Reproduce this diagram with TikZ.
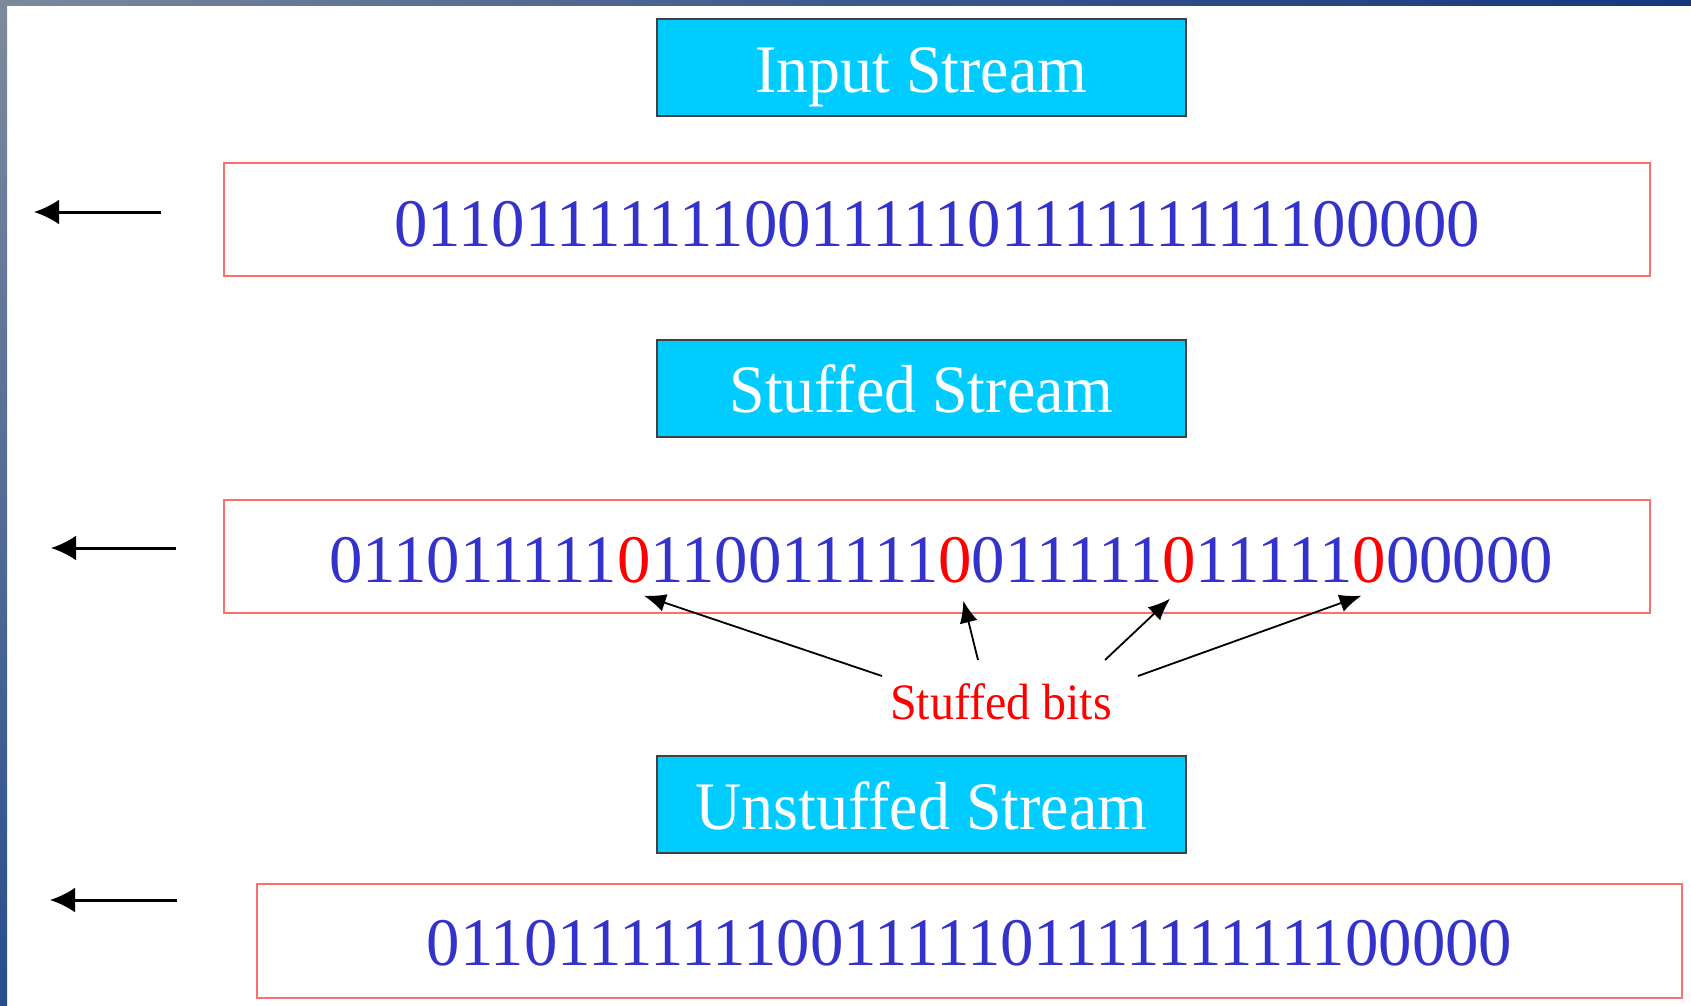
\documentclass[tikz,border=0pt]{standalone}
\usepackage{fontspec}
\setmainfont{Liberation Serif}[FakeStretch=0.94]
\newfontfamily\bitfont{Liberation Serif}[FakeStretch=0.982]
\usetikzlibrary{arrows.meta,calc}
\definecolor{titlecyan}{RGB}{0,204,255}
\definecolor{boxred}{RGB}{255,110,110}
\definecolor{bitblue}{RGB}{51,51,204}
\definecolor{frameA}{RGB}{124,138,156}
\definecolor{frameM}{RGB}{60,88,140}
\definecolor{frameB}{RGB}{20,56,128}
\definecolor{frameC}{RGB}{40,78,142}
\tikzset{
  titlebox/.style={draw=black!75, line width=1pt, fill=titlecyan, text=white,
    minimum width=264.5pt, minimum height=48.5pt, inner sep=0pt,
    text height=25.5pt, text depth=0.7pt,
    font=\fontsize{34pt}{40pt}\selectfont},
  redbox/.style={draw=boxred, line width=1.2pt, inner sep=0pt},
  bits/.style={inner sep=0pt, outer sep=0pt, text=bitblue,
    font=\bitfont\fontsize{34pt}{40pt}\selectfont},
  stuffbit/.style={bits, text=red},
  leftarrow/.style={line width=1.5pt, -{Latex[length=12.5pt,width=12.5pt]}},
  pointer/.style={line width=0.9pt, -{Latex[length=11pt,width=9pt]}},
}
\begin{document}
\begin{tikzpicture}[x=0.5pt,y=-0.5pt]
\useasboundingbox (0,0) rectangle (1691,1006);
% slide frame
\fill[white] (0,0) rectangle (1691,1006);
\shade[left color=frameA, right color=frameB, middle color=frameM] (0,0) rectangle (1691,6);
\shade[top color=frameA, bottom color=frameC] (0,0) rectangle (7,1006);

% titles
\node[titlebox] (tin) at (921.5,67.75) {Input Stream};
\node[titlebox] (tst) at (921.5,388) {Stuffed Stream};
\node[titlebox] (tun) at (921.5,804.5) {Unstuffed Stream};

% row 1
\node[redbox, minimum width=713pt, minimum height=56.5pt] (box1) at (937,219.5) {};
\node[bits, anchor=base] (in) at (937,246) {0110111111100111110111111111100000};
\coordinate (a1s) at (161,212);
\coordinate (a1e) at (34,212);
\draw[leftarrow] (a1s) -- (a1e);

% row 2
\node[redbox, minimum width=713pt, minimum height=56.5pt] (box2) at (937,556.5) {};
\node[bits, anchor=base west] (s1) at (329,582) {011011111};
\node[stuffbit, anchor=base west] (z1) at (s1.base east) {0};
\node[bits, anchor=base west] (s2) at (z1.base east) {110011111};
\node[stuffbit, anchor=base west] (z2) at (s2.base east) {0};
\node[bits, anchor=base west] (s3) at (z2.base east) {011111};
\node[stuffbit, anchor=base west] (z3) at (s3.base east) {0};
\node[bits, anchor=base west] (s4) at (z3.base east) {11111};
\node[stuffbit, anchor=base west] (z4) at (s4.base east) {0};
\node[bits, anchor=base west] (s5) at (z4.base east) {00000};
\coordinate (a2s) at (176,548);
\coordinate (a2e) at (51,548);
\draw[leftarrow] (a2s) -- (a2e);

% stuffed bits label and pointers
\node[text=red, inner sep=0pt, font=\fontsize{25.5pt}{30pt}\selectfont] (lab) at (1001,702) {Stuffed bits};
\coordinate (pa) at (882,676);
\coordinate (pb) at (978,660);
\coordinate (pc) at (1105,660);
\coordinate (pd) at (1138,676);
\draw[pointer] (pa) -- ($(z1.south)+(10,13)$);
\draw[pointer] (pb) -- ($(z2.south)+(8,18)$);
\draw[pointer] (pc) -- ($(z3.south)+(-9,16)$);
\draw[pointer] (pd) -- ($(z4.south)+(-8,13)$);

% row 3
\node[redbox, minimum width=712.5pt, minimum height=57pt] (box3) at (969.5,941) {};
\node[bits, anchor=base] (out) at (969.5,965) {0110111111100111110111111111100000};
\coordinate (a3s) at (177,900);
\coordinate (a3e) at (50,900);
\draw[leftarrow] (a3s) -- (a3e);
\end{tikzpicture}
\end{document}
